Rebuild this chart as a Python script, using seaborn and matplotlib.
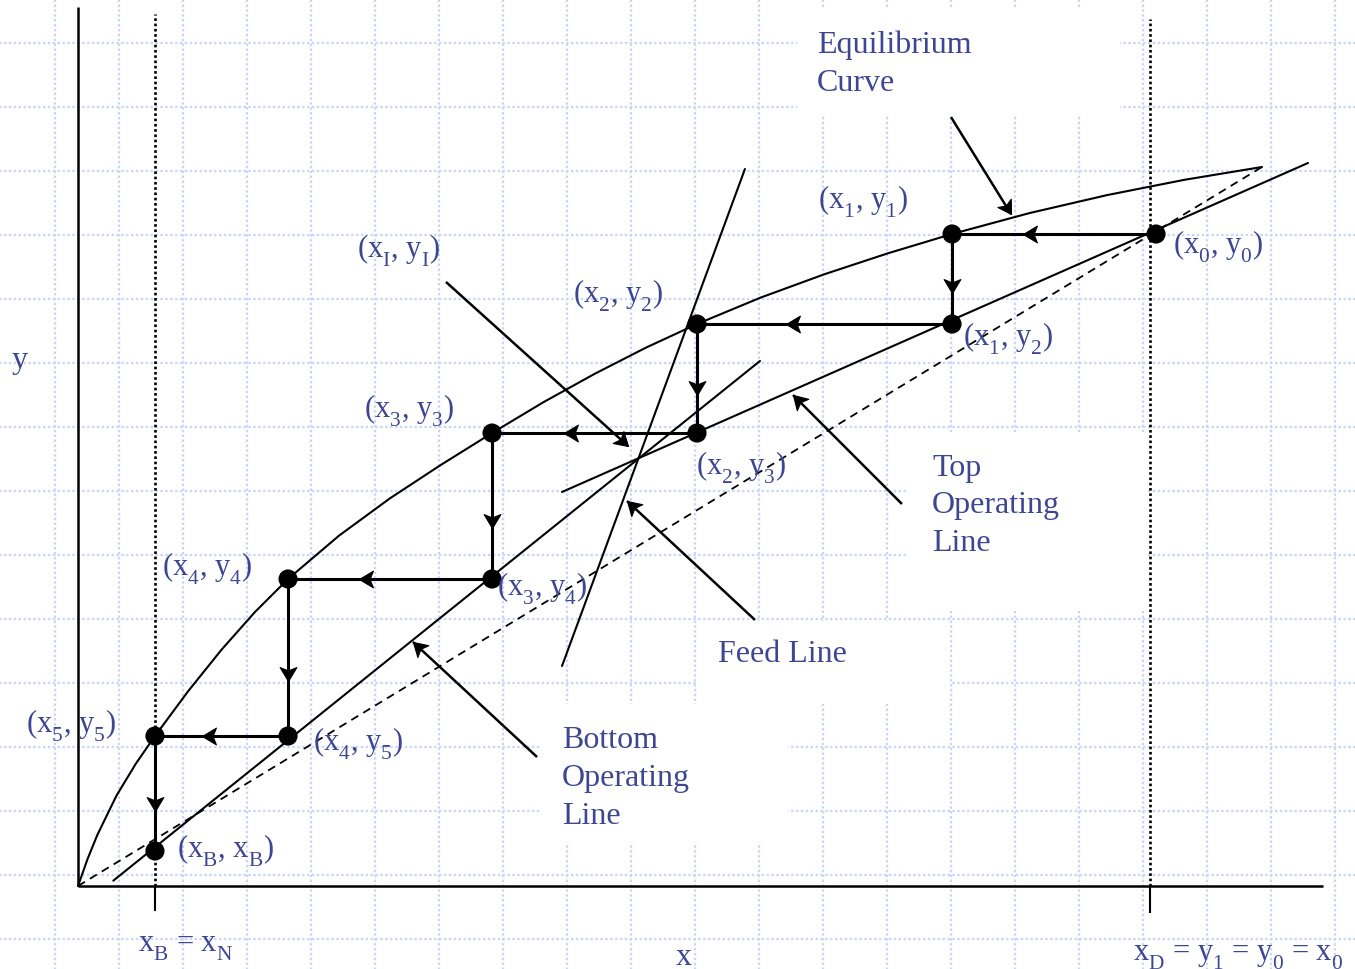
import matplotlib
matplotlib.use("Agg")
import numpy as np
import matplotlib.pyplot as plt
from matplotlib.patches import Rectangle
from matplotlib.path import Path
import seaborn as sns

# ---------------------------------------------------------------
# McCabe-Thiele construction (mole fractions, light component)
# ---------------------------------------------------------------

# Equilibrium curve y*(x)
eq_x = [0.0, 0.0081, 0.0163, 0.0325, 0.0488, 0.0650, 0.0931, 0.1212, 0.1493,
        0.1774, 0.2204, 0.2635, 0.3066, 0.3497, 0.3929, 0.4362, 0.4795,
        0.5228, 0.5766, 0.6305, 0.6843, 0.7382, 0.8036, 0.8691, 0.9345, 1.0]
eq_y = [0.0, 0.0377, 0.0709, 0.1257, 0.1700, 0.2086, 0.2711, 0.3286, 0.3808,
        0.4270, 0.4872, 0.5392, 0.5858, 0.6300, 0.6727, 0.7122, 0.7486,
        0.7816, 0.8184, 0.8509, 0.8801, 0.9068, 0.9359, 0.9609, 0.9822, 1.0]

# 45-degree line y = x
diag_x = [0.0, 1.0]
diag_y = [0.0, 1.0]

# Top (rectifying) operating line
top_x = [0.4088, 1.0389]
top_y = [0.5480, 1.0056]

# Bottom (stripping) operating line
bot_x = [0.0298, 0.5760]
bot_y = [0.0074, 0.7302]

# Feed (q) line
feed_x = [0.4088, 0.5633]
feed_y = [0.3060, 0.9972]

# Stage compositions x0..x5 and y0..y5
x_stage = [0.9105, 0.7382, 0.5228, 0.3497, 0.1774, 0.0650]
y_stage = [0.9068, 0.9068, 0.7816, 0.6300, 0.4270, 0.2086]
x_B, y_B = 0.0650, 0.0487        # bottoms point (xB, xB)
x_D = 0.9054                     # distillate composition

# ---------------------------------------------------------------
TXT = "#3e4691"
GRID = "#c9d6f6"

sns.set_theme(style="white")
plt.rcParams["font.family"] = ["Liberation Serif", "DejaVu Serif"]
plt.rcParams["mathtext.fontset"] = "custom"
plt.rcParams["mathtext.rm"] = "Liberation Serif"
plt.rcParams["mathtext.it"] = "Liberation Serif:italic"
plt.rcParams["mathtext.default"] = "regular"

# drop subscripts a little deeper, as in typeset chemical-engineering notes
try:
    import matplotlib._mathtext as _mt
    _mt.FontConstantsBase.sub1 = 0.6
except Exception:
    pass

fig = plt.figure(figsize=(13.55, 9.70), dpi=100)
ax = fig.add_axes([0, 0, 1, 1])
ax.set_xlim(-0.065878, 1.078547)
ax.set_ylim(-0.115438, 1.233658)
ax.set_axis_off()

# slide background grid (64 px pitch)
gx = (55 - 78 + 64 * np.arange(21)) / 1184
gy = (887 - (44 + 64 * np.arange(15))) / 719
ax.vlines(gx, -0.2, 1.3, colors=GRID, lw=1.6, linestyles=(0, (1.1, 1.1)), zorder=0)
ax.hlines(gy, -0.1, 1.1, colors=GRID, lw=1.6, linestyles=(0, (1.1, 1.1)), zorder=0)

# opaque text boxes on the slide
for (x0, x1, y0, y1) in [(0.6073, 0.8801, 1.0709, 1.2198),
                         (0.7010, 0.9029, 0.3825, 0.6314),
                         (0.5228, 0.7365, 0.2531, 0.3686),
                         (0.3902, 0.5997, 0.0584, 0.2531)]:
    ax.add_patch(Rectangle((x0, y0), x1 - x0, y1 - y0, facecolor="white",
                           edgecolor="none", zorder=1))

# axes
ax.vlines(0, 0, 1.2225, colors="black", lw=1.8, zorder=3)
ax.hlines(0, 0, 1.0515, colors="black", lw=1.8, zorder=3)

# xB and xD markers
ax.vlines(x_B, 0, 1.2128, colors="black", lw=1.9, linestyles=(0, (1, 1)), zorder=3)
ax.vlines(x_B, -0.0348, 0, colors="black", lw=1.5, zorder=3)
ax.vlines(x_D, 0, 1.2058, colors="black", lw=1.9, linestyles=(0, (1, 1)), zorder=3)
ax.vlines(x_D, -0.0376, 0, colors="black", lw=1.5, zorder=3)

# curves and lines
kw = dict(ax=ax, sort=False, estimator=None, color="black", legend=False)
sns.lineplot(x=eq_x, y=eq_y, lw=1.5, zorder=4, **kw)
sns.lineplot(x=diag_x, y=diag_y, lw=1.3, zorder=4, linestyle=(0, (4.5, 3.2)), **kw)
sns.lineplot(x=top_x, y=top_y, lw=1.5, zorder=4, **kw)
sns.lineplot(x=bot_x, y=bot_y, lw=1.5, zorder=4, **kw)
sns.lineplot(x=feed_x, y=feed_y, lw=1.5, zorder=4, **kw)


def arrow_head(tail, tip, size=20):
    """Stealth-style arrow head at `tip`, pointing away from `tail`."""
    p0 = ax.transData.transform(tail)
    p1 = ax.transData.transform(tip)
    ang = np.arctan2(p1[1] - p0[1], p1[0] - p0[0])
    c, s = np.cos(ang), np.sin(ang)
    base = np.array([[0, 0], [-1, 0.6], [-0.76, 0], [-1, -0.6], [0, 0]])
    rot = base @ np.array([[c, s], [-s, c]])
    head = Path(rot, [Path.MOVETO, Path.LINETO, Path.LINETO, Path.LINETO,
                      Path.CLOSEPOLY])
    ax.plot([tip[0]], [tip[1]], marker=head, markersize=size, color="black",
            markeredgewidth=0.8, linestyle="none", zorder=6)


# staircase of stages
path_x, path_y = [x_stage[0]], [y_stage[0]]
for n in range(1, 6):
    path_x.append(x_stage[n]); path_y.append(y_stage[n])
    if n < 5:
        path_x.append(x_stage[n]); path_y.append(y_stage[n + 1])
    else:
        path_x.append(x_B); path_y.append(y_B)
sns.lineplot(x=path_x, y=path_y, lw=2.2, zorder=5, **kw)

for i in range(len(path_x) - 1):
    sx, sy = path_x[i], path_y[i]
    ex, ey = path_x[i + 1], path_y[i + 1]
    tip = (sx + 0.65 * (ex - sx), sy + 0.65 * (ey - sy))
    arrow_head((sx, sy), tip, size=20)

sns.scatterplot(x=path_x, y=path_y, s=190, color="black", edgecolor="none",
                zorder=7, ax=ax, legend=False)

# pointer arrows for the line names
pointers = [((0.7373, 1.0695), (0.7880, 0.9346)),
            ((0.3108, 0.8401), (0.4645, 0.6120)),
            ((0.6959, 0.5313), (0.6039, 0.6829)),
            ((0.5718, 0.3700), (0.4637, 0.5355)),
            ((0.3877, 0.1794), (0.2829, 0.3394))]
for tail, head in pointers:
    ax.plot([tail[0], head[0]], [tail[1], head[1]], color="black", lw=1.8,
            solid_capstyle="butt", zorder=5)
    arrow_head(tail, head, size=22)

# text
def label(x, y, s, size=22):
    ax.text(x, y, s, ha="left", va="baseline", color=TXT, fontsize=size, zorder=8)

label(0.6242, 1.1600, "Equilibrium", 23)
label(0.6242, 1.1071, "Curve", 23)
label(0.7213, 0.5716, "Top", 23)
label(0.7213, 0.5202, "Operating", 23)
label(0.7213, 0.4673, "Line", 23)
label(0.5405, 0.3129, "Feed Line", 23)
label(0.4088, 0.1933, "Bottom", 23)
label(0.4088, 0.1405, "Operating", 23)
label(0.4088, 0.0876, "Line", 23)

label(0.6250, 0.9444, r"(x$_1$, y$_1$)")
label(0.9248, 0.8818, r"(x$_0$, y$_0$)")
label(0.7475, 0.7538, r"(x$_1$, y$_2$)")
label(0.2356, 0.8762, r"(x$_I$, y$_I$)")
label(0.4181, 0.8136, r"(x$_2$, y$_2$)")
label(0.2416, 0.6537, r"(x$_3$, y$_3$)")
label(0.5220, 0.5744, r"(x$_2$, y$_3$)")
label(0.3539, 0.4061, r"(x$_3$, y$_4$)")
label(0.0709, 0.4339, r"(x$_4$, y$_4$)")
label(0.1985, 0.1905, r"(x$_4$, y$_5$)")
label(-0.0439, 0.2156, r"(x$_5$, y$_5$)")
label(0.0836, 0.0417, r"(x$_B$, x$_B$)")
label(0.0507, -0.0890, r"x$_B$ = x$_N$")
label(0.8910, -0.1015, r"x$_D$ = y$_1$ = y$_0$ = x$_0$")
label(-0.0557, 0.7218, "y", 23)
label(0.5051, -0.1085, "x", 23)

fig.savefig("out.png", dpi=100)
